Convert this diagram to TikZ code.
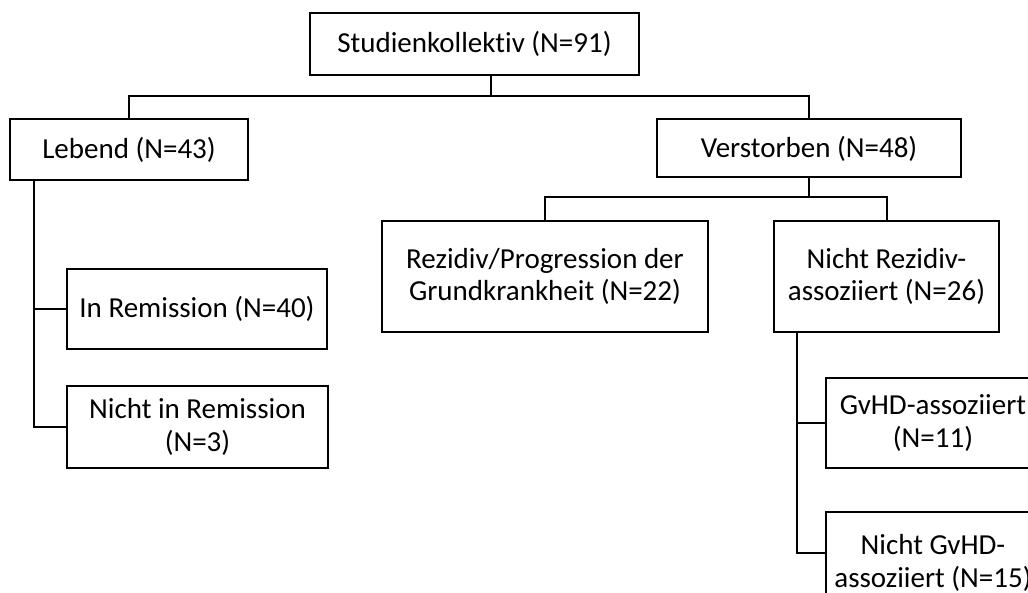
\documentclass[tikz,border=0pt]{standalone}
\usepackage{fontspec}
\setmainfont{Carlito}[Ligatures=NoCommon]
\begin{document}
\begin{tikzpicture}[x=1pt,y=-1pt,
  box/.style={draw,line width=2pt,inner sep=0pt,align=center,
    font=\fontsize{29}{32.5}\selectfont},
  conn/.style={line width=2pt}]
\useasboundingbox (0,0) rectangle (1028,593);
\node[box,minimum width=329pt,minimum height=62pt] (top) at (474.5,44) {Studienkollektiv (N=91)};
\node[box,minimum width=238pt,minimum height=61pt] (lebend) at (129,149.5) {Lebend (N=43)};
\node[box,minimum width=304pt,minimum height=58pt] (verst) at (809,148.5) {Verstorben (N=48)};
\node[box,minimum width=260pt,minimum height=80pt] (rem) at (197,309) {In Remission (N=40)};
\node[box,minimum width=261pt,minimum height=82pt] (nrem) at (197.5,427) {Nicht in Remission\\(N=3)};
\node[box,minimum width=326pt,minimum height=111pt] (rez) at (545,276.5) {Rezidiv/Progression der\\Grundkrankheit (N=22)};
\node[box,minimum width=225pt,minimum height=111pt] (nrez) at (886.5,276.5) {Nicht Rezidiv-\\assoziiert (N=26)};
\node[box,minimum width=214pt,minimum height=90pt] (gvhd) at (933,423) {GvHD-assoziiert\\(N=11)};
\node[box,minimum width=214pt,minimum height=102pt] (ngvhd) at (933,563) {Nicht GvHD-\\assoziiert (N=15)};
% connectors
\coordinate (j1) at (491,96.5);
\draw[conn] (top.south -| j1) -- (j1);
\draw[conn] (lebend.north) |- (j1) -| (verst.north);
\coordinate (l1) at (34,180);
\draw[conn] (lebend.south -| l1) |- (nrem.west);
\draw[conn] (l1 |- rem.west) -- (rem.west);
\coordinate (j2) at (809,197.5);
\draw[conn] (verst.south) -- (j2);
\draw[conn] (rez.north) |- (j2) -| (nrez.north);
\coordinate (r2) at (796.5,553);
\draw[conn] (nrez.south -| r2) -- (r2) -- (r2 -| ngvhd.west);
\draw[conn] (r2 |- gvhd.west) -- (gvhd.west);
\end{tikzpicture}
\end{document}
